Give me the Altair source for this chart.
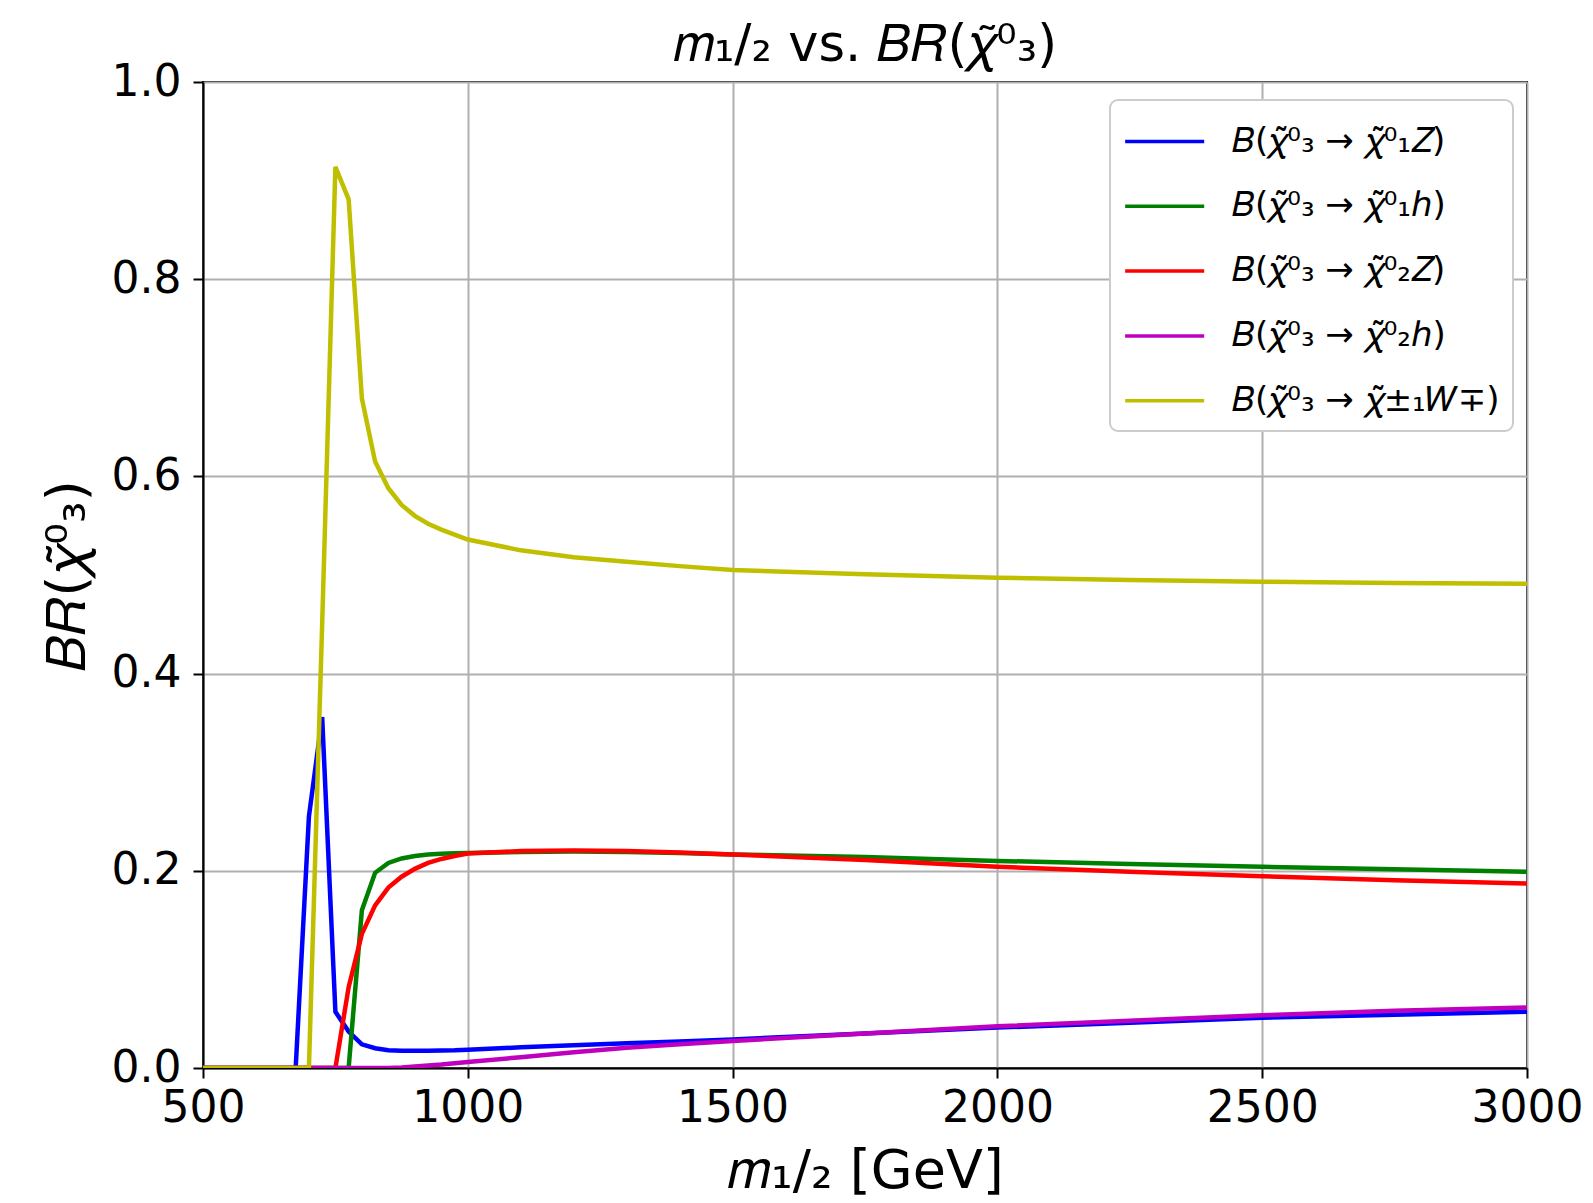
import altair as alt
import pandas as pd

# x grid (m_1/2 in GeV)
m_half = [500, 675, 700, 725, 750, 775, 800, 825, 850, 875, 900, 925, 950, 975,
          1000, 1100, 1200, 1300, 1400, 1500, 1750, 2000, 2250, 2500, 2750, 3000]

br_n1_Z = [0, 0, 0.255, 0.356, 0.057, 0.037, 0.024, 0.020, 0.018, 0.0175, 0.0175, 0.0175, 0.0178, 0.018,
           0.0185, 0.021, 0.023, 0.025, 0.027, 0.029, 0.035, 0.041, 0.046, 0.051, 0.054, 0.057]
br_n1_h = [0, 0, 0, 0, 0, 0, 0.160, 0.198, 0.208, 0.2125, 0.215, 0.2165, 0.2172, 0.2177,
           0.218, 0.219, 0.2195, 0.219, 0.218, 0.2166, 0.214, 0.210, 0.207, 0.204, 0.2015, 0.199]
br_n2_Z = [0, 0, 0, 0, 0, 0.082, 0.136, 0.165, 0.183, 0.194, 0.202, 0.208, 0.212, 0.215,
           0.2175, 0.2200, 0.2205, 0.2200, 0.2185, 0.2166, 0.211, 0.204, 0.199, 0.1945, 0.1905, 0.187]
br_n2_h = [0, 0, 0, 0, 0, 0, 0, 0, 0, 0.0005, 0.0015, 0.0025, 0.0035, 0.0048,
           0.0061, 0.011, 0.016, 0.0205, 0.024, 0.0274, 0.035, 0.0423, 0.048, 0.0535, 0.058, 0.0613]
br_c1_W = [0, 0, 0, 0.45, 0.914, 0.881, 0.679, 0.615, 0.588, 0.571, 0.560, 0.552, 0.546, 0.541,
           0.536, 0.525, 0.518, 0.5135, 0.509, 0.505, 0.5007, 0.4973, 0.495, 0.4932, 0.492, 0.491]

labels = [
    "𝐵(𝜒̃⁰₃ → 𝜒̃⁰₁𝑍)",
    "𝐵(𝜒̃⁰₃ → 𝜒̃⁰₁ℎ)",
    "𝐵(𝜒̃⁰₃ → 𝜒̃⁰₂𝑍)",
    "𝐵(𝜒̃⁰₃ → 𝜒̃⁰₂ℎ)",
    "𝐵(𝜒̃⁰₃ → 𝜒̃±₁𝑊∓)",
]
colors = ["#0000ff", "#008000", "#ff0000", "#bf00bf", "#bfbf00"]
series = [br_n1_Z, br_n1_h, br_n2_Z, br_n2_h, br_c1_W]

x_ticks = [500, 1000, 1500, 2000, 2500, 3000]
y_ticks = [0.0, 0.2, 0.4, 0.6, 0.8, 1.0]

rows = []
for i, (lab, ys) in enumerate(zip(labels, series)):
    for x, y in zip(m_half, ys):
        rows.append({"m": x, "br": y, "decay": lab, "k": i})
df = pd.DataFrame(rows)

FONT = "DejaVu Sans"

chart = alt.Chart(df).mark_line(strokeWidth=4.5, clip=True).encode(
    x=alt.X("m:Q",
            scale=alt.Scale(domain=[500, 3000], nice=False, zero=False),
            axis=alt.Axis(values=x_ticks, format="d", title="𝑚₁/₂ [GeV]",
                          labelFlush=False, labelPadding=8, titlePadding=14)),
    y=alt.Y("br:Q",
            scale=alt.Scale(domain=[0, 1], nice=False),
            axis=alt.Axis(values=y_ticks, format=".1f", title="𝐵𝑅(𝜒̃⁰₃)",
                          labelPadding=12, titlePadding=16)),
    color=alt.Color("decay:N", sort=labels,
                    scale=alt.Scale(domain=labels, range=colors),
                    legend=alt.Legend(title=None, orient="none", legendX=907, legendY=18,
                                      symbolType="M-1,0H2", symbolSize=2777,
                                      symbolStrokeWidth=3.5,
                                      labelFontSize=34, labelFont=FONT,
                                      labelColor="black",
                                      labelOffset=52, rowPadding=18.8, padding=13,
                                      cornerRadius=8, strokeColor="#cccccc",
                                      fillColor="white", labelLimit=600)),
    order=alt.Order("k:Q"),
).properties(
    width=1324, height=986,
    title=alt.Title("𝑚₁/₂ vs. 𝐵𝑅(𝜒̃⁰₃)", fontSize=51, font=FONT, fontWeight="normal",
                    anchor="middle", offset=10, dy=22, color="black"),
    padding={"left": 203, "top": 82, "right": 66, "bottom": 135},
    autosize=alt.AutoSizeParams(type="none"),
).configure_view(
    stroke="black", strokeWidth=2
).configure_legend(
    strokeWidth=2
).configure_axis(
    grid=True, gridColor="#b0b0b0", gridWidth=2,
    domainColor="black", domainWidth=2,
    tickColor="black", tickSize=10, tickWidth=2,
    labelFont=FONT, labelFontSize=44, labelColor="black",
    titleFont=FONT, titleFontSize=54, titleColor="black", titleFontWeight="normal",
)

chart.save("out.html", embed_options={"renderer": "svg", "actions": False})
